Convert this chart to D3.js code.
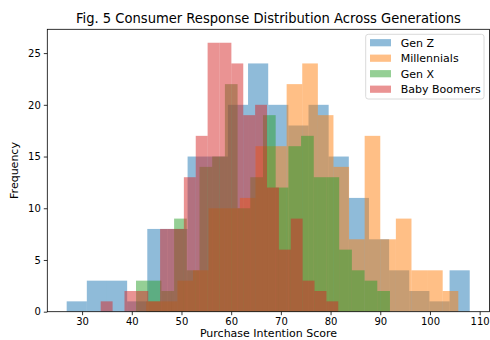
<!DOCTYPE html>
<html>
<head>
<meta charset="utf-8">
<script src="https://cdn.jsdelivr.net/npm/d3@7"></script>
<style>
  html, body { margin: 0; padding: 0; background: #fff; }
  svg { display: block; font-family: "DejaVu Sans", sans-serif; }
</style>
</head>
<body>
<div id="chart"></div>
<script>
// ---- data ----
const categories = ["Gen Z", "Millennials", "Gen X", "Baby Boomers"];
const colors = ["#1f77b4", "#ff7f0e", "#2ca02c", "#d62728"];

// range [min, max] of each group's scores (20 equal bins across it)
const genZRange = [26.9, 108.0];
const millennialsRange = [42.9, 105.7];
const genXRange = [40.85, 91.95];
const boomersRange = [33.75, 81.55];

// counts per bin (20 bins each)
const genZCounts = [1, 3, 3, 1, 8, 8, 15, 15, 20, 24, 20, 18, 20, 15, 11, 7, 4, 2, 1, 4];
const millennialsCounts = [1, 1, 3, 4, 10, 10, 11, 16, 16, 22, 24, 19, 14, 7, 17, 7, 9, 4, 4, 2];
const genXCounts = [3, 3, 2, 9, 4, 14, 15, 22, 10, 13, 19, 12, 16, 17, 13, 13, 6, 4, 3, 2];
const boomersCounts = [1, 0, 2, 2, 1, 8, 8, 13, 17, 26, 26, 24, 19, 20, 12, 6, 9, 3, 2, 1];

const xTicks = [30, 40, 50, 60, 70, 80, 90, 100, 110];
const yTicks = [0, 5, 10, 15, 20, 25];

const title = "Fig. 5 Consumer Response Distribution Across Generations";
const xLabel = "Purchase Intention Score";
const yLabel = "Frequency";

// ---- layout ----
const W = 490, H = 340;
const plot = { left: 47.3, right: 489.6, top: 29.3, bottom: 311.7 };

const svg = d3.select("#chart").append("svg")
  .attr("width", W).attr("height", H);

const x = d3.scaleLinear().domain([23.0, 112.0]).range([plot.left, plot.right]);
const y = d3.scaleLinear().domain([0, 27.3]).range([plot.bottom, plot.top]);

const groups = [
  { name: categories[0], range: genZRange, counts: genZCounts, color: colors[0] },
  { name: categories[1], range: millennialsRange, counts: millennialsCounts, color: colors[1] },
  { name: categories[2], range: genXRange, counts: genXCounts, color: colors[2] },
  { name: categories[3], range: boomersRange, counts: boomersCounts, color: colors[3] }
];

const clipId = "plotclip";
svg.append("clipPath").attr("id", clipId).append("rect")
  .attr("x", plot.left).attr("y", plot.top)
  .attr("width", plot.right - plot.left).attr("height", plot.bottom - plot.top);

const barsG = svg.append("g").attr("clip-path", `url(#${clipId})`);

groups.forEach(g => {
  const n = g.counts.length;
  const step = (g.range[1] - g.range[0]) / n;
  const bins = g.counts.map((c, i) => ({
    x0: g.range[0] + i * step,
    x1: g.range[0] + (i + 1) * step,
    c
  }));
  barsG.append("g").selectAll("rect").data(bins).join("rect")
    .attr("x", d => x(d.x0))
    .attr("width", d => x(d.x1) - x(d.x0))
    .attr("y", d => y(d.c))
    .attr("height", d => y(0) - y(d.c))
    .attr("fill", g.color)
    .attr("fill-opacity", 0.5);
});

// axes
const xAxis = d3.axisBottom(x).tickValues(xTicks).tickSize(3.5).tickPadding(3).tickFormat(d3.format("d"));
const yAxis = d3.axisLeft(y).tickValues(yTicks).tickSize(3.5).tickPadding(3).tickFormat(d3.format("d"));

const gx = svg.append("g").attr("transform", `translate(0,${plot.bottom})`).call(xAxis);
const gy = svg.append("g").attr("transform", `translate(${plot.left},0)`).call(yAxis);
[gx, gy].forEach(g => {
  g.select(".domain").remove();
  g.selectAll(".tick line").attr("stroke", "#000").attr("stroke-width", 0.8);
  g.selectAll(".tick text").attr("fill", "#000").style("font-size", "10px")
    .style("font-family", "DejaVu Sans, sans-serif");
});

// frame
svg.append("rect")
  .attr("x", plot.left).attr("y", plot.top)
  .attr("width", plot.right - plot.left).attr("height", plot.bottom - plot.top)
  .attr("fill", "none").attr("stroke", "#000").attr("stroke-width", 0.8);

// title and labels
svg.append("text").attr("x", (plot.left + plot.right) / 2).attr("y", 23)
  .attr("text-anchor", "middle").style("font-size", "13.5px").attr("fill", "#000")
  .attr("textLength", 385).attr("lengthAdjust", "spacingAndGlyphs")
  .text(title);
svg.append("text").attr("x", (plot.left + plot.right) / 2).attr("y", 336.5)
  .attr("text-anchor", "middle").style("font-size", "11px").attr("fill", "#000")
  .text(xLabel);
svg.append("text")
  .attr("transform", `translate(18,${(plot.top + plot.bottom) / 2}) rotate(-90)`)
  .attr("text-anchor", "middle").style("font-size", "11px").attr("fill", "#000")
  .text(yLabel);

// legend
const lg = svg.append("g");
lg.append("rect").attr("x", 365.7).attr("y", 34.3).attr("width", 118.3).attr("height", 64.7)
  .attr("rx", 2.5).attr("fill", "#fff").attr("fill-opacity", 0.8)
  .attr("stroke", "#d0d0d0").attr("stroke-width", 0.8);
const rowH = 15.5;
const items = lg.selectAll("g.item").data(groups).join("g").attr("class", "item")
  .attr("transform", (d, i) => `translate(370,${42.7 + i * rowH})`);
items.append("rect").attr("x", 0).attr("y", -3.6).attr("width", 21).attr("height", 7.2)
  .attr("fill", d => d.color).attr("fill-opacity", 0.5);
items.append("text").attr("x", 30.7).attr("y", 4).style("font-size", "11px").attr("fill", "#000")
  .text(d => d.name);
</script>
</body>
</html>
